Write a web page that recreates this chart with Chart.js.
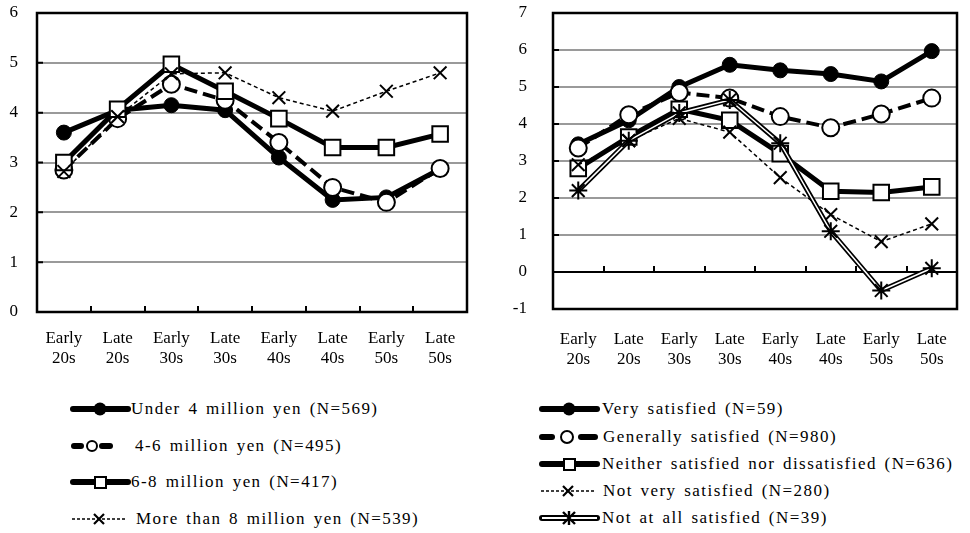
<!DOCTYPE html>
<html>
<head>
<meta charset="utf-8">
<script src="https://cdn.jsdelivr.net/npm/chart.js@4/dist/chart.umd.min.js"></script>
<style>
  body { margin: 0; background: #fff; }
  #page { position: relative; width: 970px; height: 533px; overflow: hidden; background: #fff; }
  .box { position: absolute; top: 0; width: 480px; height: 390px; }
  .row { position: absolute; height: 22px; line-height: 22px; white-space: nowrap;
         font-family: 'Liberation Serif', 'Times New Roman', serif; font-size: 17px; color: #000;
         letter-spacing: 1.45px; word-spacing: 2px; }
  .row svg { position: absolute; left: 0; top: 3px; }
  .row span { position: absolute; top: 0; }
</style>
</head>
<body>
<div id="page">
  <div class="box" style="left:0"><canvas id="incomeChart"></canvas></div>
  <div class="box" style="left:490px"><canvas id="satisChart"></canvas></div>
  <div id="legendLeft"></div>
  <div id="legendRight"></div>
</div>
<script>
// x categories (age groups)
var ages = ['Early 20s', 'Late 20s', 'Early 30s', 'Late 30s', 'Early 40s', 'Late 40s', 'Early 50s', 'Late 50s'];

// left chart: by annual income
var incomeNames = ['Under 4 million yen (N=569)', '4-6 million yen (N=495)', '6-8 million yen (N=417)', 'More than 8 million yen (N=539)'];
var under4 = [3.6, 4.05, 4.15, 4.05, 3.1, 2.25, 2.3, 2.87];
var from4to6 = [2.85, 3.88, 4.57, 4.25, 3.4, 2.5, 2.2, 2.88];
var from6to8 = [3.0, 4.07, 4.97, 4.43, 3.88, 3.3, 3.3, 3.57];
var over8 = [2.82, 3.92, 4.78, 4.8, 4.3, 4.03, 4.43, 4.8];
var incomeTicks = [0, 1, 2, 3, 4, 5, 6];

// right chart: by job satisfaction
var satisNames = ['Very satisfied (N=59)', 'Generally satisfied (N=980)', 'Neither satisfied nor dissatisfied (N=636)', 'Not very satisfied (N=280)', 'Not at all satisfied (N=39)'];
var verySat = [3.45, 4.1, 5.0, 5.6, 5.45, 5.35, 5.15, 5.97];
var generallySat = [3.35, 4.25, 4.85, 4.7, 4.2, 3.9, 4.27, 4.7];
var neitherSat = [2.8, 3.65, 4.4, 4.1, 3.2, 2.18, 2.15, 2.3];
var notVerySat = [2.9, 3.55, 4.15, 3.78, 2.55, 1.55, 0.82, 1.3];
var notAtAllSat = [2.2, 3.55, 4.3, 4.65, 3.48, 1.1, -0.5, 0.1];
var satisTicks = [-1, 0, 1, 2, 3, 4, 5, 6, 7];

Chart.defaults.font.family = "'Liberation Serif', 'Times New Roman', serif";
Chart.defaults.font.size = 17;
Chart.defaults.color = '#000';
Chart.defaults.animation = false;

// series looks, shared by both charts
var looks = {
  filled: { borderColor: '#000', borderWidth: 5, pointStyle: 'circle', pointRadius: 7.5, pointBackgroundColor: '#000', pointBorderWidth: 1 },
  open: { borderColor: '#000', borderWidth: 4, borderDash: [13, 6], pointStyle: 'circle', pointRadius: 8.5, pointBackgroundColor: '#fff', pointBorderWidth: 2 },
  square: { borderColor: '#000', borderWidth: 5, pointStyle: 'rect', pointRadius: 11, pointBackgroundColor: '#fff', pointBorderWidth: 2 },
  cross: { borderColor: '#000', borderWidth: 1.5, borderDash: [4, 3], pointStyle: 'crossRot', pointRadius: 9, pointBorderWidth: 2 }
};

function series(data, look, order) {
  var ds = { data: data, fill: false, tension: 0, order: order, pointBorderColor: '#000' };
  for (var k in look) ds[k] = look[k];
  return ds;
}

// black frame around the plot area, plus short inward tick marks
// (category boundaries sit on the line y = baseValue)
var frame = {
  id: 'frame',
  beforeDatasetsDraw: function(chart, args, opts) {
    var a = chart.chartArea, c = chart.ctx;
    var x = chart.scales.x, y = chart.scales.y;
    c.save();
    c.strokeStyle = '#000';
    c.lineWidth = 2.5;
    c.strokeRect(a.left, a.top, a.right - a.left, a.bottom - a.top);
    c.lineWidth = 2;
    c.beginPath();
    var base = y.getPixelForValue(opts.baseValue);
    for (var i = 1; i < x.ticks.length; i++) {
      var px = Math.round((x.getPixelForTick(i - 1) + x.getPixelForTick(i)) / 2);
      c.moveTo(px, base);
      c.lineTo(px, base - 6);
    }
    y.ticks.forEach(function(t) {
      var py = y.getPixelForValue(t.value);
      c.moveTo(a.left, py);
      c.lineTo(a.left + 6, py);
    });
    c.stroke();
    c.restore();
  }
};

function splitLabel(val) {
  return this.getLabelForValue(val).split(' ');
}

// fixed axis sizes so the plot areas land where the original has them
function fixY(width) {
  return function(s) { s.width = width; s.paddingTop = 0; s.paddingBottom = 0; };
}

new Chart(document.getElementById('incomeChart'), {
  type: 'line',
  data: {
    labels: ages,
    datasets: [
      series(under4, looks.filled, 4),
      series(from4to6, looks.open, 3),
      series(from6to8, looks.square, 2),
      series(over8, looks.cross, 1)
    ]
  },
  options: {
    responsive: true,
    maintainAspectRatio: false,
    layout: { padding: { top: 12, right: 11, left: 0, bottom: 0 } },
    plugins: { legend: { display: false }, tooltip: { enabled: false }, frame: { baseValue: 0 } },
    scales: {
      x: {
        offset: true,
        border: { display: false },
        grid: { display: false, drawTicks: false },
        ticks: { padding: 16, maxRotation: 0, autoSkip: false, callback: splitLabel },
        afterFit: function(s) { s.height = 78; }
      },
      y: {
        min: 0, max: 6,
        afterBuildTicks: function(s) { s.ticks = incomeTicks.map(function(v) { return { value: v }; }); },
        border: { display: false },
        grid: { color: '#9a9a9a', lineWidth: 2, drawTicks: false },
        ticks: { padding: 19 },
        afterFit: fixY(37)
      }
    }
  },
  plugins: [frame]
});

new Chart(document.getElementById('satisChart'), {
  type: 'line',
  data: {
    labels: ages,
    datasets: [
      series(verySat, looks.filled, 8),
      series(generallySat, looks.open, 7),
      series(neitherSat, looks.square, 6),
      series(notVerySat, looks.cross, 5),
      // double line: black line, white inner line, then the asterisk marks
      series(notAtAllSat, { borderColor: '#000', borderWidth: 5, pointRadius: 0 }, 4),
      series(notAtAllSat, { borderColor: '#fff', borderWidth: 1.5, pointRadius: 0 }, 3),
      series(notAtAllSat, { showLine: false, pointStyle: 'star', pointRadius: 9, pointBorderWidth: 2 }, 2)
    ]
  },
  options: {
    responsive: true,
    maintainAspectRatio: false,
    layout: { padding: { top: 12, right: 4, left: 0, bottom: 0 } },
    plugins: { legend: { display: false }, tooltip: { enabled: false }, frame: { baseValue: 0 } },
    scales: {
      x: {
        offset: true,
        border: { display: false },
        grid: { display: false, drawTicks: false },
        ticks: { padding: 20, maxRotation: 0, autoSkip: false, callback: splitLabel },
        afterFit: function(s) { s.height = 81; }
      },
      y: {
        min: -1, max: 7,
        afterBuildTicks: function(s) { s.ticks = satisTicks.map(function(v) { return { value: v }; }); },
        border: { display: false },
        grid: {
          color: function(c) { return c.tick && c.tick.value === 0 ? '#000' : '#9a9a9a'; },
          lineWidth: 2, drawTicks: false
        },
        ticks: { padding: 26 },
        afterFit: fixY(63)
      }
    }
  },
  plugins: [frame]
});

// legend icons (svg) and text
function icon(kind) {
  var s = '<svg width="62" height="16" viewBox="0 0 62 16">';
  if (kind === 'filled') {
    s += '<line x1="3" y1="8" x2="58" y2="8" stroke="#000" stroke-width="6" stroke-linecap="round"/>';
    s += '<circle cx="30" cy="8" r="6.5" fill="#000"/>';
  } else if (kind === 'open') {
    s += '<line x1="4" y1="8" x2="11" y2="8" stroke="#000" stroke-width="6" stroke-linecap="round"/>';
    s += '<line x1="32" y1="8" x2="40" y2="8" stroke="#000" stroke-width="6" stroke-linecap="round"/>';
    s += '<circle cx="22" cy="8" r="5" fill="#fff" stroke="#000" stroke-width="2"/>';
  } else if (kind === 'openWide') {
    s += '<line x1="3" y1="8" x2="13" y2="8" stroke="#000" stroke-width="6" stroke-linecap="round"/>';
    s += '<line x1="42" y1="8" x2="56" y2="8" stroke="#000" stroke-width="6" stroke-linecap="round"/>';
    s += '<circle cx="28" cy="8" r="6" fill="#fff" stroke="#000" stroke-width="2"/>';
  } else if (kind === 'square') {
    s += '<line x1="3" y1="8" x2="58" y2="8" stroke="#000" stroke-width="6" stroke-linecap="round"/>';
    s += '<rect x="25" y="3" width="11" height="11" fill="#fff" stroke="#000" stroke-width="2"/>';
  } else if (kind === 'cross') {
    s += '<line x1="2" y1="8" x2="56" y2="8" stroke="#000" stroke-width="1.5" stroke-dasharray="3,2"/>';
    s += '<path d="M24 3 L34 13 M34 3 L24 13" stroke="#000" stroke-width="2.2"/>';
  } else if (kind === 'double') {
    s += '<line x1="3" y1="8" x2="58" y2="8" stroke="#000" stroke-width="6" stroke-linecap="round"/>';
    s += '<line x1="3" y1="8" x2="58" y2="8" stroke="#fff" stroke-width="1.8"/>';
    s += '<path d="M24 2 L36 14 M36 2 L24 14 M30 1 L30 15" stroke="#000" stroke-width="2.4"/>';
  }
  return s + '</svg>';
}

function legend(el, names, kinds, left, textX, rowsY) {
  var html = '';
  for (var i = 0; i < names.length; i++) {
    html += '<div class="row" style="left:' + left + 'px;top:' + (rowsY[i] - 11) + 'px">' +
      icon(kinds[i]) + '<span style="left:' + textX[i] + 'px">' + names[i] + '</span></div>';
  }
  document.getElementById(el).innerHTML = html;
}

legend('legendLeft', incomeNames, ['filled', 'open', 'square', 'cross'], 70, [61, 65, 61, 66], [409, 446, 482, 519]);
legend('legendRight', satisNames, ['filled', 'openWide', 'square', 'cross', 'double'], 539, [63, 64, 63, 64, 63], [409, 437, 464, 491, 518]);
</script>
</body>
</html>
